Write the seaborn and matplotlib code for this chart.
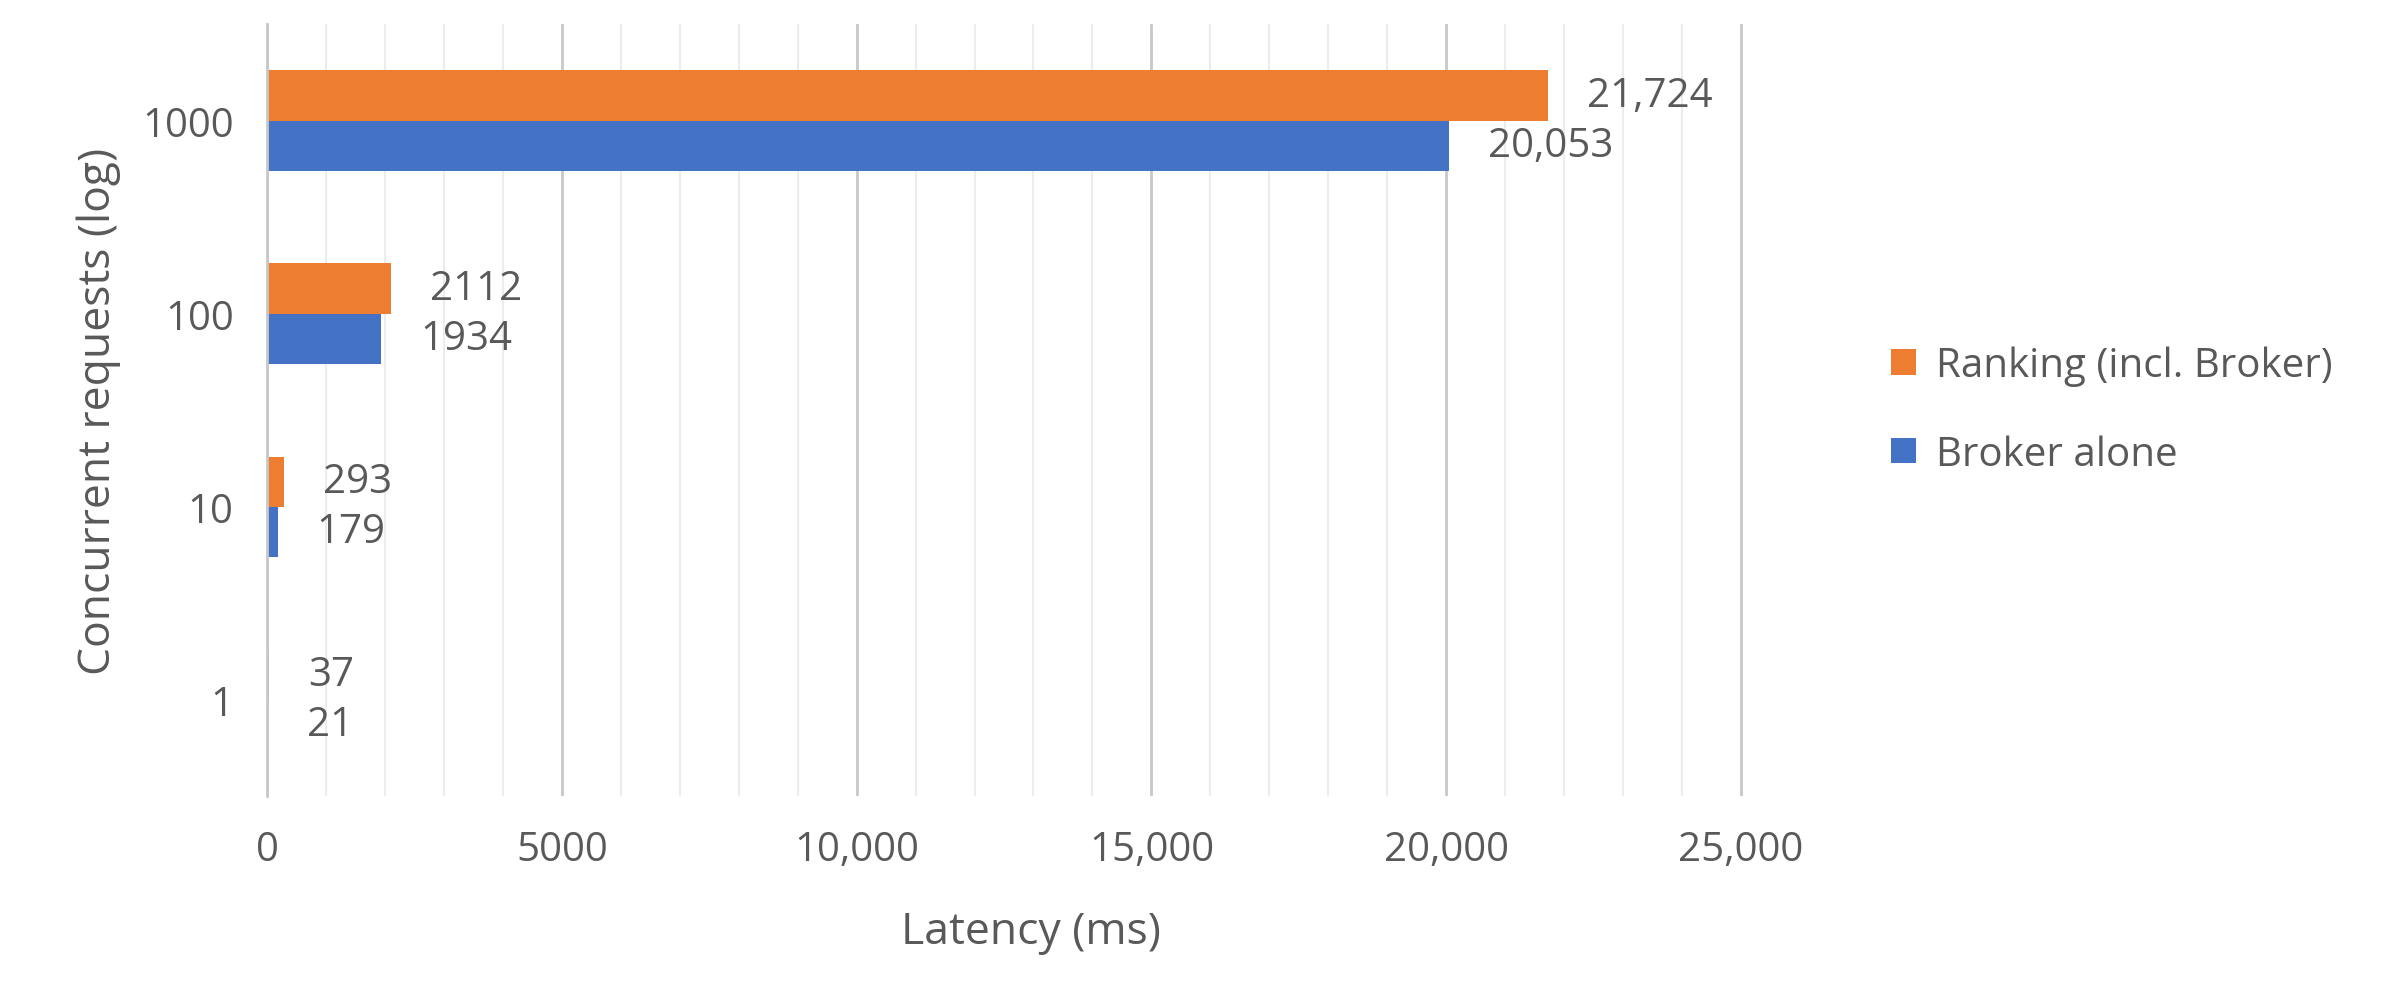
import matplotlib
matplotlib.use("Agg")
import matplotlib.pyplot as plt
import seaborn as sns
import pandas as pd
from matplotlib.ticker import MultipleLocator, FixedLocator

categories = ["1000", "100", "10", "1"]
ranking = [21724, 2112, 293, 37]
broker = [20053, 1934, 179, 21]
ranking_labels = ["21,724", "2112", "293", "37"]
broker_labels = ["20,053", "1934", "179", "21"]
series = ["Ranking (incl. Broker)", "Broker alone"]
xticks = [0, 5000, 10000, 15000, 20000, 25000]
xtick_labels = ["0", "5000", "10,000", "15,000", "20,000", "25,000"]

df = pd.DataFrame({
    "cat": categories * 2,
    "val": ranking + broker,
    "series": [series[0]] * 4 + [series[1]] * 4,
})

sns.set_theme(style="white")
plt.rcParams["font.family"] = ["Open Sans", "DejaVu Sans"]
gray = "#595959"

fig = plt.figure(figsize=(24.05, 10.03), dpi=100)
ax = fig.add_axes([0.111, 0.205, 0.635, 0.77])
sns.barplot(data=df, y="cat", x="val", hue="series", order=categories,
            hue_order=series, palette=["#ED7D31", "#4472C4"], orient="h",
            width=0.52, saturation=1, linewidth=0, ax=ax, legend=True)

for cont, labs in zip(ax.containers, [ranking_labels, broker_labels]):
    ax.bar_label(cont, labels=labs, padding=28, fontsize=29, color=gray)

ax.set_xlim(0, 25900)
ax.xaxis.set_major_locator(FixedLocator(xticks))
ax.set_xticklabels(xtick_labels)
ax.xaxis.set_minor_locator(MultipleLocator(1000))
ax.grid(axis="x", which="major", color="#c8c8c8", linewidth=2)
ax.grid(axis="x", which="minor", color="#ececec", linewidth=1.5)
ax.set_axisbelow(True)
for s in ["top", "right", "bottom"]:
    ax.spines[s].set_visible(False)
ax.spines["left"].set_color("#c8c8c8")
ax.spines["left"].set_linewidth(2)
ax.tick_params(axis="both", labelsize=29, colors=gray, length=0, pad=24)
ax.set_xlabel("Latency (ms)", fontsize=32, color=gray, labelpad=28)
ax.set_ylabel("Concurrent requests (log)", fontsize=32, color=gray, labelpad=15)

ax.legend(loc="center left", bbox_to_anchor=(1.04, 0.50), frameon=False,
          fontsize=29, labelcolor=gray, handlelength=0.6, handleheight=0.6,
          labelspacing=1.2, handletextpad=0.5)

fig.savefig("out.png", dpi=100)
